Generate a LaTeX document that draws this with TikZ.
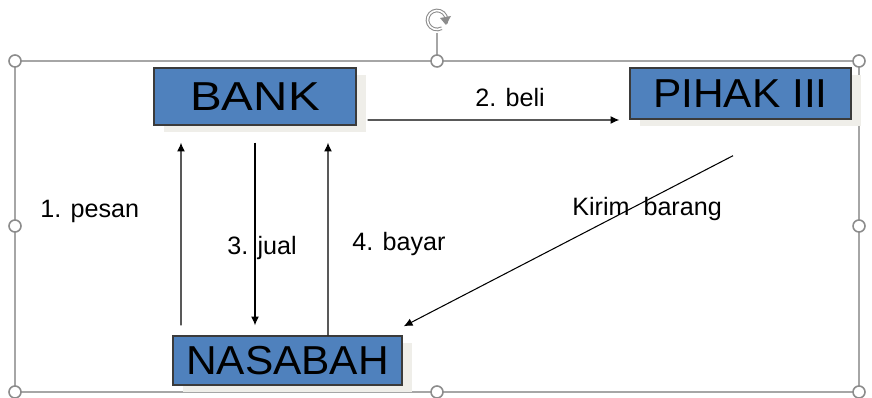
\documentclass[tikz,border=0pt]{standalone}
\usepackage{fontspec}
\setmainfont{Liberation Sans}
\newfontfamily\partyfont[FakeStretch=1.05]{Liberation Sans}
\usetikzlibrary{arrows.meta,shadows}

\definecolor{boxblue}{HTML}{4F81BD}
\definecolor{boxline}{HTML}{3B3B3B}
\definecolor{shade}{HTML}{EFEEE9}
\definecolor{framegray}{HTML}{A6A6A6}
\definecolor{handlegray}{HTML}{8C8C8C}

\tikzset{
  party/.style={draw=boxline, line width=0.8pt, fill=boxblue, inner sep=0pt,
    font=\partyfont\fontsize{23}{27}\selectfont,
    drop shadow={shadow xshift=0.2cm, shadow yshift=-0.14cm, fill=shade, opacity=1}},
  flow/.style={-{Latex[length=5pt,width=4.5pt]}, line width=0.6pt},
  lbl/.style={anchor=base west, inner sep=0pt, font=\fontsize{14.3}{16}\selectfont},
  handle/.style={circle, draw=handlegray, fill=white, line width=0.9pt,
    minimum size=0.24cm, inner sep=0pt},
}

\begin{document}
\begin{tikzpicture}

  \useasboundingbox (0,0) rectangle (17.44,7.94);

  % selection frame
  \draw [framegray, line width=0.8pt] (0.30,0.10) rectangle (17.18,6.72);
  \draw [framegray, line width=0.8pt] (8.74,6.72) -- (8.74,7.28);
  \foreach \x in {0.30,8.74,17.18} {
    \node[handle] at (\x,6.72) {};
    \node[handle] at (\x,0.10) {};
  }
  \node[handle] at (0.30,3.42) {};
  \node[handle] at (17.18,3.42) {};
  \draw [handlegray, line width=0.6pt, double=white, double distance=0.9pt]
    (8.74,7.54) ++(-20:0.19) arc (-20:300:0.19);
  \fill [handlegray] (8.92,7.44) -- (9.02,7.62) -- (8.80,7.58) -- cycle;

  % parties
  \node[party, minimum width=4.04cm, minimum height=1.14cm] (bank) at (5.10, 6.01) {\scalebox{1.12}[1]{BANK}};
  \node[party, minimum width=4.42cm, minimum height=1.02cm] (pihak) at (14.81, 6.07) {PIHAK III};
  \node[party, minimum width=4.58cm, minimum height=0.98cm] (nasabah) at (5.75, 0.73) {NASABAH};

  % flows
  \draw [flow] ([xshift=-2.13cm, yshift=0.2cm]nasabah.north) -- ([xshift=-1.48cm, yshift=-0.34cm]bank.south);
  \draw [flow] ([yshift=-0.34cm]bank.south) -- ([xshift=-0.65cm, yshift=0.2cm]nasabah.north);
  \draw [flow] ([xshift=0.81cm]nasabah.north) -- ([xshift=1.46cm, yshift=-0.34cm]bank.south);
  \draw [flow] ([xshift=0.22cm, yshift=-0.47cm]bank.east) -- ([xshift=-0.2cm, yshift=-0.53cm]pihak.west);
  \draw [flow] ([xshift=-0.15cm, yshift=-0.72cm]pihak.south) -- ([xshift=0.02cm, yshift=0.18cm]nasabah.north east);

  % labels
  \node[lbl] (pesan) at (0.80, 3.58) {1. pesan};
  \node[lbl] (beli) at (9.50, 5.80) {2. beli};
  \node[lbl] (jual) at (4.54, 2.84) {3. jual};
  \node[lbl] (bayar) at (7.04, 2.92) {4. bayar};
  \node[lbl] (kirim) at (11.44, 3.62) {Kirim\ \ barang};

\end{tikzpicture}
\end{document}
